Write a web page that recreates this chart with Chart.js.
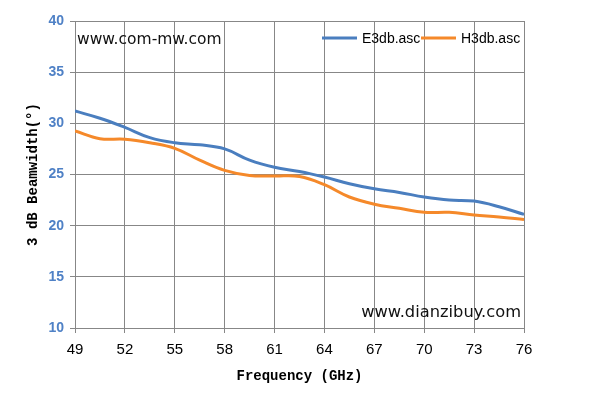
<!DOCTYPE html>
<html>
<head>
<meta charset="utf-8">
<script src="https://cdn.jsdelivr.net/npm/chart.js@4.4.1/dist/chart.umd.min.js"></script>
<style>
  html, body { margin: 0; padding: 0; background: #fff; }
  #wrap { width: 597px; height: 411px; }
</style>
</head>
<body>
<div id="wrap"><canvas id="beamChart" width="597" height="411"></canvas></div>
<script>
// frecuencias (GHz) y anchos de haz
const freqs = [49, 50.5, 52, 53.5, 55, 56.5, 58, 59.5, 61, 62.5, 64, 65.5, 67, 68.5, 70, 71.5, 73, 74.5, 76];
const e3db = [31.2, 30.5, 29.6, 28.6, 28.1, 27.9, 27.5, 26.4, 25.7, 25.3, 24.75, 24.1, 23.6, 23.25, 22.8, 22.5, 22.4, 21.85, 21.1];
const h3db = [29.25, 28.5, 28.45, 28.1, 27.55, 26.4, 25.4, 24.9, 24.85, 24.8, 24.0, 22.8, 22.1, 21.7, 21.3, 21.3, 21.05, 20.85, 20.6];
const seriesNames = ['E3db.asc', 'H3db.asc'];
const xTicks = [49, 52, 55, 58, 61, 64, 67, 70, 73, 76];
const yTicks = [10, 15, 20, 25, 30, 35, 40];

const gridColor = '#878787';

function toPoints(xs, ys) {
    return xs.map((x, i) => ({ x: x, y: ys[i] }));
}

// Leyenda y marcas de agua dibujadas dentro del área del gráfico
const overlayPlugin = {
    id: 'overlay',
    afterDraw(chart) {
        const ctx = chart.ctx;
        const area = chart.chartArea;
        ctx.save();

        // leyenda
        ctx.font = '14px "Liberation Sans", Arial, sans-serif';
        ctx.textBaseline = 'middle';
        ctx.textAlign = 'left';
        const legendY = 38;
        const starts = [322, 421];
        chart.data.datasets.forEach((ds, i) => {
            const x0 = starts[i];
            ctx.strokeStyle = ds.borderColor;
            ctx.lineWidth = 3;
            ctx.beginPath();
            ctx.moveTo(x0, legendY);
            ctx.lineTo(x0 + 35, legendY);
            ctx.stroke();
            ctx.fillStyle = '#000';
            ctx.fillText(ds.label, x0 + 40, legendY + 1);
        });

        // marcas de agua
        ctx.fillStyle = '#111';
        ctx.font = '15.5px "DejaVu Sans", Verdana, sans-serif';
        ctx.textAlign = 'left';
        ctx.fillText('www.com-mw.com', area.left + 2, 40);
        ctx.font = '16.3px "DejaVu Sans", Verdana, sans-serif';
        ctx.textAlign = 'right';
        ctx.fillText('www.dianzibuy.com', area.right - 3, 313);

        ctx.restore();
    }
};

function initChart() {
    const canvas = document.getElementById('beamChart');
    new Chart(canvas, {
        type: 'line',
        data: {
            datasets: [
                {
                    label: seriesNames[0],
                    data: toPoints(freqs, e3db),
                    borderColor: '#4a7ebf',
                    borderWidth: 3,
                    pointRadius: 0,
                    tension: 0.4,
                    fill: false
                },
                {
                    label: seriesNames[1],
                    data: toPoints(freqs, h3db),
                    borderColor: '#f5892a',
                    borderWidth: 3,
                    pointRadius: 0,
                    tension: 0.4,
                    fill: false
                }
            ]
        },
        options: {
            responsive: false,
            animation: false,
            layout: { padding: { left: 0, right: 73, top: 21, bottom: 0 } },
            plugins: {
                legend: { display: false },
                tooltip: { enabled: false }
            },
            scales: {
                x: {
                    type: 'linear',
                    min: 49,
                    max: 76,
                    afterBuildTicks: (scale) => { scale.ticks = xTicks.map(v => ({ value: v })); },
                    afterFit: (scale) => { scale.height = 83; },
                    grid: { color: gridColor, lineWidth: 1, tickLength: 5, drawTicks: true },
                    border: { color: gridColor, width: 1 },
                    ticks: {
                        color: '#000',
                        padding: 8,
                        maxRotation: 0,
                        font: { family: '"Liberation Sans", Arial, sans-serif', size: 15 }
                    },
                    title: {
                        display: true,
                        text: 'Frequency (GHz)',
                        color: '#000',
                        font: { family: '"Liberation Mono", "DejaVu Sans Mono", monospace', size: 14, weight: 'bold' },
                        padding: { top: 0, bottom: 26 }
                    }
                },
                y: {
                    min: 10,
                    max: 40,
                    afterBuildTicks: (scale) => { scale.ticks = yTicks.map(v => ({ value: v })); },
                    afterFit: (scale) => { scale.width = 75; },
                    grid: { color: gridColor, lineWidth: 1, tickLength: 5, drawTicks: true },
                    border: { color: gridColor, width: 1 },
                    ticks: {
                        color: '#4f81c6',
                        padding: 6,
                        font: { family: '"Liberation Sans", Arial, sans-serif', size: 14, weight: 'bold' }
                    },
                    title: {
                        display: true,
                        text: '3 dB Beamwidth(°)',
                        color: '#000',
                        font: { family: '"Liberation Mono", "DejaVu Sans Mono", monospace', size: 14, weight: 'bold' },
                        padding: { top: 25, bottom: 0 }
                    }
                }
            }
        },
        plugins: [overlayPlugin]
    });
}

document.addEventListener('DOMContentLoaded', initChart);
</script>
</body>
</html>
